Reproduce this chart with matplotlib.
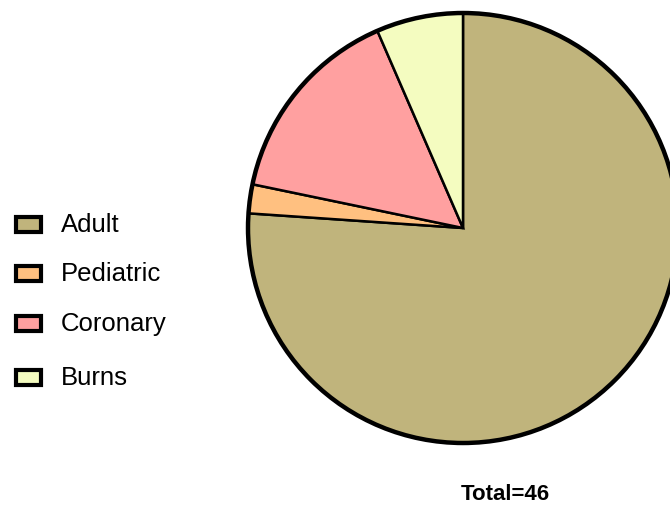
import matplotlib.pyplot as plt
from matplotlib.patches import Rectangle, Circle

# Cases by category
labels = ['Adult', 'Pediatric', 'Coronary', 'Burns']
counts = [35, 1, 7, 3]
colors = ['#C0B47C', '#FFC080', '#FFA0A0', '#F4FCC0']

W, H = 670, 505
fig = plt.figure(figsize=(W / 100, H / 100), dpi=100)
ax = fig.add_axes([0, 0, 1, 1])

cx, cy, r = 463, H - 228, 215
ax.pie(counts, colors=colors, startangle=90, counterclock=False,
       center=(cx, cy), radius=r, frame=True,
       wedgeprops=dict(edgecolor='black', linewidth=1.8))
ax.add_patch(Circle((cx, cy), r, fill=False, edgecolor='black', linewidth=3.2, zorder=5))
ax.set_xlim(0, W)
ax.set_ylim(0, H)
ax.set_aspect('equal')
ax.axis('off')

# legend drawn by hand on the left
ys = [224, 273, 323, 377]
for lab, col, y in zip(labels, colors, ys):
    ax.add_patch(Rectangle((16, H - y - 7.5), 25, 15, facecolor=col,
                           edgecolor='black', linewidth=3, zorder=6))
    ax.text(61, H - y - 1, lab, fontsize=18.5, family='Liberation Sans',
            va='center', ha='left')

ax.text(505, H - 494, 'Total=%d' % sum(counts), fontsize=16,
        fontweight='bold', family='Liberation Sans', ha='center', va='center')

fig.savefig('out.png', dpi=100)
